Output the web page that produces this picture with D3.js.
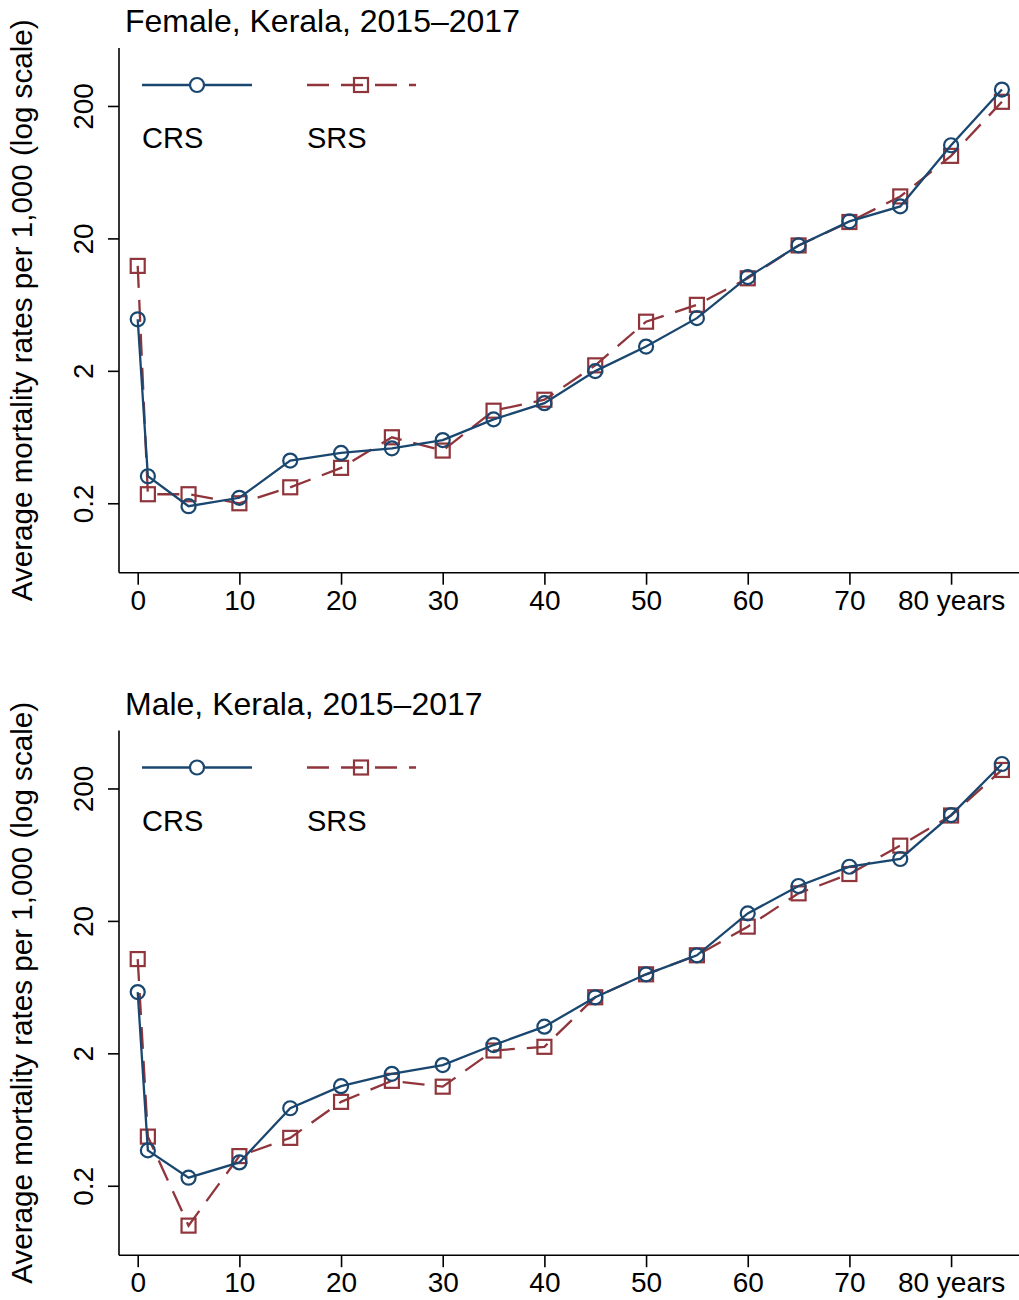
<!DOCTYPE html>
<html>
<head>
    <meta charset="utf-8">
    <title>Mortality rates, Kerala</title>
    <style type="text/css">
        body { margin: 0; background: #fff; }
        svg { display: block; font-family: "Liberation Sans", Arial, sans-serif; }
    </style>
</head>
<body>
    <svg id="chart"></svg>
    <script src="https://d3js.org/d3.v7.min.js"></script>
    <script type="text/javascript">
        // age groups (x axis)
        var ages = [0, 1, 5, 10, 15, 20, 25, 30, 35, 40, 45, 50, 55, 60, 65, 70, 75, 80, 85];

        // female rates per 1,000
        var femaleCRS = [4.9, 0.32, 0.19, 0.22, 0.42, 0.48, 0.52, 0.60, 0.86, 1.14, 1.99, 3.05, 5.0, 10.2, 17.7, 26.9, 34.9, 101, 266];
        var femaleSRS = [12.4, 0.234, 0.234, 0.20, 0.264, 0.37, 0.63, 0.50, 1.0, 1.21, 2.2, 4.7, 6.3, 10.0, 17.7, 26.6, 41.5, 84, 215];

        // male rates per 1,000
        var maleCRS = [5.8, 0.37, 0.23, 0.30, 0.77, 1.13, 1.40, 1.63, 2.31, 3.18, 5.3, 7.9, 11.0, 22.8, 36.7, 51.3, 58.7, 126, 306];
        var maleSRS = [10.3, 0.47, 0.10, 0.335, 0.46, 0.86, 1.24, 1.12, 2.1, 2.24, 5.3, 7.9, 11.0, 18.1, 32.3, 45.2, 74, 125, 276];

        var xTicks = [0, 10, 20, 30, 40, 50, 60, 70, 80];
        var xTickLabels = ["0", "10", "20", "30", "40", "50", "60", "70", "80 years"];
        var yTicks = [0.2, 2, 20, 200];
        var yTickLabels = ["0.2", "2", "20", "200"];

        var panels = [
            { title: "Female, Kerala, 2015\u20132017", crs: femaleCRS, srs: femaleSRS },
            { title: "Male, Kerala, 2015\u20132017", crs: maleCRS, srs: maleSRS }
        ];

        var width = 1019, height = 1300;
        var navy = "#1a476f", maroon = "#90353b";
        var left = 119, plotW = 900, plotH = 524.7;
        var panelTop = [48, 730.5];
        var mr = 7; // marker half size

        var svg = d3.select("#chart")
            .attr("width", width)
            .attr("height", height);

        var x = d3.scaleLinear().domain([-1.84, 86.68]).range([0, plotW]);
        var y = d3.scaleLog().domain([0.0598, 548]).range([plotH, 0]);

        panels.forEach(function(p, i) {
            var g = svg.append("g")
                .attr("transform", `translate(${left},${panelTop[i]})`);

            // title
            g.append("text")
                .attr("x", 6)
                .attr("y", -16)
                .style("font-size", "32px")
                .text(p.title);

            // y axis title
            g.append("text")
                .attr("transform", `translate(${32 - left},${plotH / 2}) rotate(-90)`)
                .attr("text-anchor", "middle")
                .style("font-size", "29.6px")
                .text("Average mortality rates per 1,000 (log scale)");

            // y axis
            var yAxis = g.append("g")
                .call(d3.axisLeft(y).tickValues(yTicks).tickSize(11).tickFormat((d, j) => yTickLabels[j]));
            yAxis.select(".domain").attr("stroke-width", 1.6).attr("d", `M0,0V${plotH}`);
            yAxis.selectAll(".tick line").attr("stroke-width", 1.6);
            yAxis.selectAll(".tick text")
                .attr("x", null).attr("dy", null)
                .attr("transform", "translate(-26,0) rotate(-90)")
                .attr("text-anchor", "middle")
                .style("font-size", "28px")
                .style("font-family", "inherit")
                .attr("fill", "#000");

            // x axis
            var xAxis = g.append("g")
                .attr("transform", `translate(0,${plotH})`)
                .call(d3.axisBottom(x).tickValues(xTicks).tickSize(12).tickFormat((d, j) => xTickLabels[j]));
            xAxis.select(".domain").attr("stroke-width", 1.6).attr("d", `M0,0H${plotW}`);
            xAxis.selectAll(".tick line").attr("stroke-width", 1.6);
            xAxis.selectAll(".tick text")
                .attr("y", 37).attr("dy", null)
                .style("font-size", "28px")
                .style("font-family", "inherit")
                .attr("fill", "#000");

            var line = d3.line()
                .x((d, j) => x(ages[j]))
                .y(d => y(d));

            // SRS series (dashed, squares)
            g.append("path")
                .datum(p.srs)
                .attr("fill", "none")
                .attr("stroke", maroon)
                .attr("stroke-width", 2.3)
                .attr("stroke-dasharray", "22,12")
                .attr("d", line);
            g.selectAll("rect.srs")
                .data(p.srs)
                .join("rect")
                .attr("class", "srs")
                .attr("x", (d, j) => x(ages[j]) - mr)
                .attr("y", d => y(d) - mr)
                .attr("width", mr * 2)
                .attr("height", mr * 2)
                .attr("fill", "none")
                .attr("stroke", maroon)
                .attr("stroke-width", 2.2);

            // CRS series (solid, circles)
            g.append("path")
                .datum(p.crs)
                .attr("fill", "none")
                .attr("stroke", navy)
                .attr("stroke-width", 2.3)
                .attr("d", line);
            g.selectAll("circle.crs")
                .data(p.crs)
                .join("circle")
                .attr("class", "crs")
                .attr("cx", (d, j) => x(ages[j]))
                .attr("cy", d => y(d))
                .attr("r", mr)
                .attr("fill", "none")
                .attr("stroke", navy)
                .attr("stroke-width", 2.2);

            // legend
            var lg = g.append("g").attr("transform", `translate(0,${37})`);
            lg.append("line")
                .attr("x1", 23).attr("x2", 133).attr("y1", 0).attr("y2", 0)
                .attr("stroke", navy).attr("stroke-width", 2.3);
            lg.append("circle")
                .attr("cx", 78).attr("cy", 0).attr("r", mr)
                .attr("fill", "#fff").attr("stroke", navy).attr("stroke-width", 2.2);
            lg.append("line")
                .attr("x1", 188).attr("x2", 297).attr("y1", 0).attr("y2", 0)
                .attr("stroke", maroon).attr("stroke-width", 2.3)
                .attr("stroke-dasharray", "22,12");
            lg.append("rect")
                .attr("x", 242 - mr).attr("y", -mr).attr("width", mr * 2).attr("height", mr * 2)
                .attr("fill", "none").attr("stroke", maroon).attr("stroke-width", 2.2);
            lg.append("text")
                .attr("x", 23).attr("y", 63)
                .style("font-size", "29px")
                .text("CRS");
            lg.append("text")
                .attr("x", 188).attr("y", 63)
                .style("font-size", "29px")
                .text("SRS");
        });
    </script>
</body>
</html>
